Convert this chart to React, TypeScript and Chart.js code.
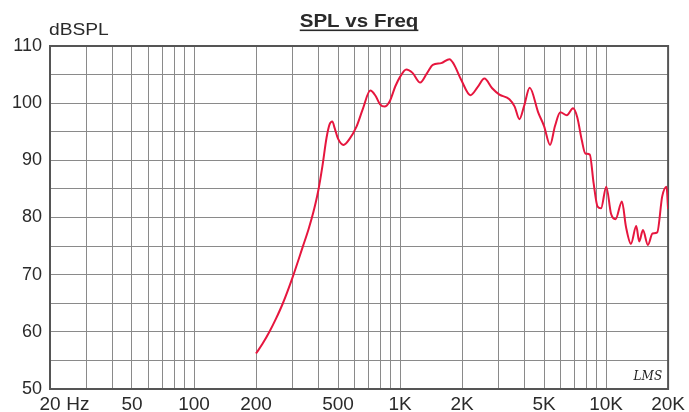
import React, { useEffect, useRef } from "react";
import { Chart, registerables } from "chart.js";

Chart.register(...registerables);

const TITLE = "SPL vs Freq";
const Y_UNIT = "dBSPL";
const LOGO = "LMS";

const FREQS = [
  200, 215, 233, 250, 270, 300, 338, 360, 380, 400, 420, 440, 455, 469, 482, 500,
  532, 570, 613, 660, 717, 760, 800, 841, 890, 950, 1000, 1072, 1150, 1253, 1350,
  1442, 1584, 1738, 1820, 1980, 2196, 2380, 2568, 2800, 3036, 3394, 3600, 3796,
  4000, 4258, 4692, 5000, 5346, 5650, 5998, 6450, 6911, 7250, 7626, 7930, 8337,
  8700, 9096, 9448, 10024, 10562, 11118, 11940, 12486, 13204, 14008, 14488, 15094,
  15960, 16804, 17710, 18728, 19644, 20000,
];
const SPL = [
  56.2, 57.9, 60.1, 62.3, 65.0, 69.4, 75.0, 78.0, 81.0, 84.5, 89.0, 94.0, 96.3, 96.8,
  95.6, 93.8, 92.7, 93.8, 95.8, 99.0, 102.2, 101.3, 99.8, 99.4, 100.3, 103.0, 104.6,
  105.9, 105.3, 103.6, 105.2, 106.7, 107.0, 107.7, 106.9, 104.1, 101.4, 102.8, 104.3,
  102.6, 101.5, 100.7, 99.4, 97.2, 99.5, 102.7, 98.3, 96.0, 92.7, 96.0, 98.4, 97.9,
  99.1, 97.5, 93.5, 91.2, 91.0, 86.0, 81.9, 81.6, 85.4, 80.7, 79.7, 82.8, 78.4, 75.4,
  78.5, 75.8, 77.8, 75.2, 77.2, 77.4, 83.7, 85.4, 81.5,
];

const HZ_POS = 27.3;
const X_TICKS = [
  20, HZ_POS, 30, 40, 50, 60, 70, 80, 90, 100, 200, 300, 400, 500, 600, 700, 800, 900,
  1000, 2000, 3000, 4000, 5000, 6000, 7000, 8000, 9000, 10000, 20000,
];
const X_LABEL_VALUES = [20, HZ_POS, 50, 100, 200, 500, 1000, 2000, 5000, 10000, 20000];
const X_LABEL_TEXT = ["20", "Hz", "50", "100", "200", "500", "1K", "2K", "5K", "10K", "20K"];

const Y_MIN = 50;
const Y_MAX = 110;
const Y_STEP = 5;
const Y_LABEL_STEP = 10;

const FONT = '"Liberation Sans", Arial, sans-serif';
const TEXT_COLOR = "#2a2a2a";
const GRID_COLOR = "#8a8a8a";
const LINE_COLOR = "#e6163e";

const decorPlugin = {
  id: "decor",
  beforeDatasetsDraw(chart: any) {
    const { ctx, chartArea: a } = chart;
    ctx.save();
    ctx.strokeStyle = "#555";
    ctx.lineWidth = 2;
    ctx.strokeRect(a.left, a.top, a.right - a.left, a.bottom - a.top);
    ctx.restore();
  },
  afterDraw(chart: any) {
    const { ctx, chartArea: a } = chart;
    ctx.save();
    ctx.fillStyle = TEXT_COLOR;
    // title
    ctx.font = `bold 19px ${FONT}`;
    ctx.textAlign = "center";
    ctx.textBaseline = "alphabetic";
    const cx = (a.left + a.right) / 2;
    const sx = 1.08;
    const w = ctx.measureText(TITLE).width * sx;
    ctx.save();
    ctx.translate(cx, 27);
    ctx.scale(sx, 1);
    ctx.fillText(TITLE, 0, 0);
    ctx.restore();
    ctx.fillRect(cx - w / 2, 29.5, w, 1.6);
    // unit
    ctx.font = `16px ${FONT}`;
    ctx.textAlign = "left";
    ctx.save();
    ctx.translate(a.left - 1, 35);
    ctx.scale(1.2, 1);
    ctx.fillText(Y_UNIT, 0, 0);
    ctx.restore();
    // logo
    ctx.font = `italic 12px "DejaVu Serif", serif`;
    ctx.textAlign = "right";
    ctx.fillStyle = "#222";
    ctx.fillText(LOGO, a.right - 6, a.bottom - 9);
    ctx.restore();
  },
};

export default function App() {
  const ref = useRef<HTMLCanvasElement | null>(null);
  useEffect(() => {
    if (!ref.current) return;
    const chart = new Chart(ref.current, {
      type: "line",
      data: {
        datasets: [
          {
            data: FREQS.map((f, i) => ({ x: f, y: SPL[i] })),
            borderColor: LINE_COLOR,
            borderWidth: 2,
            pointRadius: 0,
            cubicInterpolationMode: "monotone",
            fill: false,
          },
        ],
      },
      options: {
        responsive: false,
        animation: false,
        events: [],
        layout: { padding: { top: 46, right: 20, bottom: 0, left: 0 } },
        plugins: { legend: { display: false }, tooltip: { enabled: false }, title: { display: false } },
        scales: {
          x: {
            type: "logarithmic",
            min: 20,
            max: 20000,
            afterBuildTicks: (s: any) => {
              s.ticks = X_TICKS.map((v) => ({ value: v }));
            },
            afterFit: (s: any) => {
              s.height = 23;
            },
            border: { display: false },
            grid: {
              drawTicks: false,
              color: (c: any) => (c.tick && c.tick.value === HZ_POS ? "rgba(0,0,0,0)" : GRID_COLOR),
              lineWidth: 1,
            },
            ticks: {
              autoSkip: false,
              maxRotation: 0,
              minRotation: 0,
              padding: 4,
              color: TEXT_COLOR,
              font: { family: FONT, size: 19 },
              callback: (v: any) => {
                const i = X_LABEL_VALUES.indexOf(Number(v));
                return i >= 0 ? X_LABEL_TEXT[i] : "";
              },
            },
          },
          y: {
            type: "linear",
            min: Y_MIN,
            max: Y_MAX,
            afterFit: (s: any) => {
              s.width = 50;
            },
            border: { display: false },
            grid: { drawTicks: false, color: GRID_COLOR, lineWidth: 1 },
            ticks: {
              stepSize: Y_STEP,
              padding: 8,
              color: TEXT_COLOR,
              font: { family: FONT, size: 18 },
              callback: (v: any) => (Number(v) % Y_LABEL_STEP === 0 ? String(v) : ""),
            },
          },
        },
      },
      plugins: [decorPlugin],
    });
    return () => chart.destroy();
  }, []);
  return (
    <div style={{ position: "fixed", left: 0, top: 0, width: 689, height: 412, background: "#fff" }}>
      <canvas ref={ref} width={689} height={412} style={{ display: "block" }} />
    </div>
  );
}
